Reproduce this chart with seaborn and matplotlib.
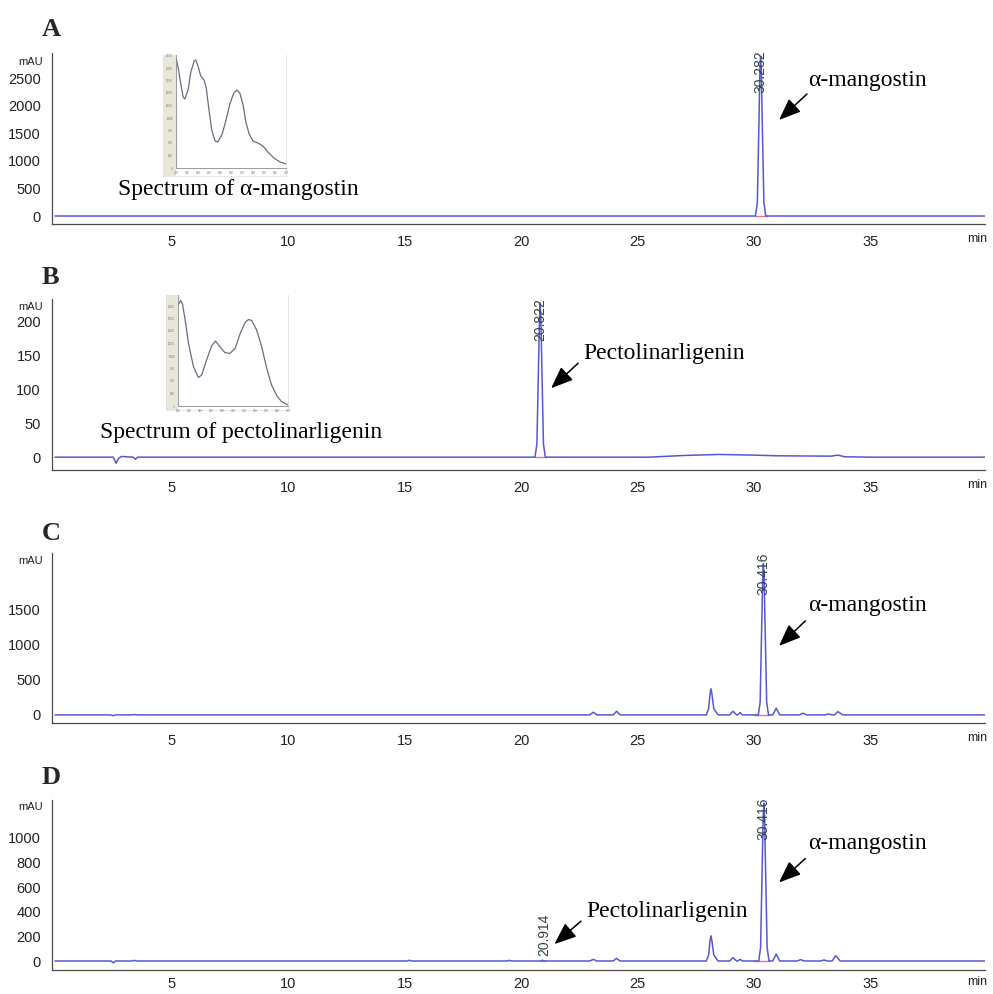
import matplotlib
matplotlib.use("Agg")
import matplotlib.pyplot as plt
from matplotlib.ticker import MultipleLocator, FixedLocator
from matplotlib.patches import Rectangle
import seaborn as sns

# ---------------- data ----------------
# Chromatogram A: alpha-mangostin standard
time_A = [0.0, 30.06, 30.14, 30.20, 30.25, 30.28, 30.31, 30.36, 30.42, 30.50, 40.0]
mau_A = [0, 0, 250, 1500, 2650, 2900, 2650, 1500, 250, 0, 0]

# Chromatogram B: pectolinarligenin standard
time_B = [0.0, 2.50, 2.62, 2.72, 2.85, 3.35, 3.45, 3.55,
          20.60, 20.68, 20.74, 20.79, 20.82, 20.85, 20.90, 20.96, 21.04,
          25.5, 27.0, 28.5, 30.0, 31.0, 33.3, 33.6, 33.9, 35.0, 40.0]
mau_B = [0, 0, -9, -2, 1, 0, -3, 0,
         0, 20, 120, 205, 228, 205, 120, 20, 0,
         0, 2.5, 4, 3, 2, 1.5, 3, 0.5, 0, 0]

# Chromatogram C: sample
time_C = [0.0, 2.40, 2.50, 2.60, 3.30, 3.40, 3.50,
          22.95, 23.10, 23.25, 23.95, 24.10, 24.25,
          27.95, 28.05, 28.11, 28.15, 28.19, 28.27, 28.45,
          28.95, 29.10, 29.25, 29.30, 29.40, 29.50,
          30.18, 30.26, 30.32, 30.37, 30.40, 30.43, 30.48, 30.54, 30.62,
          30.80, 30.95, 31.10,
          31.95, 32.10, 32.25, 33.05, 33.20, 33.35, 33.45, 33.60, 33.80, 40.0]
mau_C = [0, 0, -12, 0, 0, 6, 0,
         0, 38, 0, 0, 52, 0,
         0, 90, 300, 372, 300, 90, 0,
         0, 52, 0, 0, 33, 0,
         0, 180, 1150, 1950, 2150, 1950, 1150, 180, 0,
         0, 94, 0,
         0, 24, 0, 0, 14, 0, 0, 47, 0, 0]

# Chromatogram D: sample
time_D = [0.0, 2.40, 2.50, 2.60, 3.30, 3.40, 3.50,
          15.10, 15.20, 15.30, 19.40, 19.50, 19.60, 20.80, 20.91, 21.02,
          22.95, 23.10, 23.25, 23.95, 24.10, 24.25,
          27.95, 28.05, 28.11, 28.15, 28.19, 28.27, 28.45,
          28.95, 29.10, 29.25, 29.30, 29.40, 29.50,
          30.20, 30.28, 30.34, 30.39, 30.42, 30.45, 30.50, 30.56, 30.64,
          30.80, 30.95, 31.10,
          31.85, 32.00, 32.15, 32.85, 33.00, 33.15, 33.35, 33.50, 33.70, 40.0]
mau_D = [0, 0, -15, 0, 0, 5, 0,
         0, 6, 0, 0, 5, 0, 0, 6, 0,
         0, 13, 0, 0, 21, 0,
         0, 50, 165, 204, 165, 50, 0,
         0, 27, 0, 0, 13, 0,
         0, 110, 680, 1170, 1280, 1170, 680, 110, 0,
         0, 56, 0,
         0, 11, 0, 0, 8, 0, 0, 43, 0, 0]

# Retention-time labels
rt_labels_A = ["30.282"]; rt_x_A = [30.28]; rt_y_A = [2230]
rt_labels_B = ["20.822"]; rt_x_B = [20.82]; rt_y_B = [172]
rt_labels_C = ["30.416"]; rt_x_C = [30.40]; rt_y_C = [1707]
rt_labels_D = ["20.914", "30.416"]; rt_x_D = [20.98, 30.42]; rt_y_D = [40, 984]

# Integration baselines (start, end)
integ_A = [(30.06, 30.55)]
integ_B = [(20.60, 21.05)]
integ_C = [(30.00, 30.62)]
integ_D = [(20.80, 21.02), (30.00, 30.64)]

# Compound annotations: name, text (x, y), arrow tail, arrow head
names_A = ["α-mangostin"]; text_A = [(32.3, 2468)]; tail_A = [(32.27, 2214)]; head_A = [(31.07, 1742)]
names_B = ["Pectolinarligenin"]; text_B = [(22.66, 153)]; tail_B = [(22.45, 139)]; head_B = [(21.29, 102)]
names_C = ["α-mangostin"]; text_C = [(32.3, 1548)]; tail_C = [(32.2, 1335)]; head_C = [(31.07, 980)]
names_D = ["α-mangostin", "Pectolinarligenin"]
text_D = [(32.3, 952), (22.8, 403)]; tail_D = [(32.2, 831), (22.57, 323)]; head_D = [(31.07, 637), (21.43, 137)]

# UV spectra (insets)
wl_A = [200, 204, 209, 213, 216, 222, 227, 233, 236, 240, 245, 251, 255, 260, 265, 271, 276,
        284, 291, 298, 305, 311, 316, 322, 327, 333, 340, 349, 358, 367, 378, 389, 400]
abs_A = [2200, 2000, 1660, 1420, 1380, 1560, 1920, 2140, 2160, 2040, 1840, 1760, 1600, 1160, 760, 540, 520,
         680, 960, 1280, 1500, 1560, 1500, 1260, 920, 680, 540, 500, 440, 320, 200, 120, 80]
wl_B = [200, 205, 208, 213, 219, 228, 237, 243, 252, 261, 268, 276, 285, 294, 304, 313, 322,
        328, 334, 343, 352, 361, 370, 380, 388, 400]
abs_B = [2020, 2110, 2050, 1720, 1260, 790, 570, 620, 920, 1200, 1300, 1190, 1070, 1050, 1150, 1450, 1670,
         1730, 1710, 1520, 1190, 770, 420, 200, 90, 20]
spectrum_titles = ["Spectrum of α-mangostin", "Spectrum of pectolinarligenin"]
spectrum_title_xy = [(2.7, 472), (1.93, 36)]

panel_letters = ["A", "B", "C", "D"]

# ---------------- styling / layout ----------------
sns.set_style("white")
plt.rcParams["font.family"] = ["Liberation Sans", "DejaVu Sans"]
SERIF = ["Liberation Serif", "DejaVu Serif"]

W, H = 993, 994
def fbox(l, t, r, b):
    return [l / W, 1 - b / H, (r - l) / W, (b - t) / H]

TRACE = "#5757d2"
PINK = "#e07a98"
AXC = "#4a4a4a"
RTC = "#2f4346"

fig = plt.figure(figsize=(W / 100, H / 100), dpi=100)

panels = [
    dict(t=time_A, y=mau_A, box=(52, 53, 985, 224), ylim=(-145, 2958), major=[0, 500, 1000, 1500, 2000, 2500],
         minor=100, mau_y=2795, letter_y=29, rt=(rt_labels_A, rt_x_A, rt_y_A), integ=integ_A,
         ann=(names_A, text_A, tail_A, head_A), xlen=6, xpad=2),
    dict(t=time_B, y=mau_B, box=(52, 299, 985, 470), ylim=(-19, 234), major=[0, 50, 100, 150, 200],
         minor=10, mau_y=222, letter_y=277, rt=(rt_labels_B, rt_x_B, rt_y_B), integ=integ_B,
         ann=(names_B, text_B, tail_B, head_B), xlen=6, xpad=2),
    dict(t=time_C, y=mau_C, box=(52, 553, 985, 723), ylim=(-115, 2300), major=[0, 500, 1000, 1500],
         minor=100, mau_y=2187, letter_y=533, rt=(rt_labels_C, rt_x_C, rt_y_C), integ=integ_C,
         ann=(names_C, text_C, tail_C, head_C), xlen=6, xpad=2),
    dict(t=time_D, y=mau_D, box=(52, 800, 985, 970), ylim=(-73, 1306), major=[0, 200, 400, 600, 800, 1000],
         minor=50, mau_y=1250, letter_y=778, rt=(rt_labels_D, rt_x_D, rt_y_D), integ=integ_D,
         ann=(names_D, text_D, tail_D, head_D), xlen=4.5, xpad=0.8),
]

xmajor = [5, 10, 15, 20, 25, 30, 35]
xminor = [m for m in range(1, 40) if m % 5 != 0]

axes = []
for i, p in enumerate(panels):
    assert len(p["t"]) == len(p["y"])
    ax = fig.add_axes(fbox(*p["box"]))
    axes.append(ax)
    ax.set_facecolor("none")
    sns.lineplot(x=p["t"], y=p["y"], ax=ax, color=TRACE, linewidth=1.1,
                 estimator=None, sort=False, legend=False, zorder=3)
    for (a, b) in p["integ"]:
        ax.plot([a, b], [0, 0], color=PINK, lw=1.0, zorder=2)
    ax.set_xlim(-0.13, 39.91)
    ax.set_ylim(*p["ylim"])
    for s in ["top", "right"]:
        ax.spines[s].set_visible(False)
    for s in ["left", "bottom"]:
        ax.spines[s].set_color(AXC)
        ax.spines[s].set_linewidth(0.9)
    ax.xaxis.set_major_locator(FixedLocator(xmajor))
    ax.xaxis.set_minor_locator(FixedLocator(xminor))
    ax.set_xticklabels([str(v) for v in xmajor])
    ax.yaxis.set_major_locator(FixedLocator(p["major"]))
    ax.yaxis.set_minor_locator(MultipleLocator(p["minor"]))
    ax.set_yticklabels([str(v) for v in p["major"]])
    ax.tick_params(axis="y", which="major", direction="out", length=6, width=0.8,
                   color=AXC, labelsize=10.5, labelcolor="#222222", pad=2)
    ax.tick_params(axis="x", which="major", direction="out", length=p["xlen"], width=0.8,
                   color=AXC, labelsize=10.5, labelcolor="#222222", pad=p["xpad"])
    ax.tick_params(axis="both", which="minor", direction="out", length=3.5, width=0.7, color=AXC)
    ax.set_xlabel("")
    ax.set_ylabel("")
    ax.annotate("mAU", xy=(0, p["mau_y"]), xycoords=("axes fraction", "data"),
                xytext=(-6.5, 0), textcoords="offset points", ha="right", va="center",
                fontsize=8, color="#222222")
    ax.annotate("min", xy=(39.15, 0), xycoords=("data", "axes fraction"),
                xytext=(0, -(p["xlen"] * 0.72 + p["xpad"] + 0.3)), textcoords="offset points",
                ha="left", va="top", fontsize=9, color="#222222", annotation_clip=False)
    # retention time labels
    labs, xs, ys = p["rt"]
    for lab, x, y in zip(labs, xs, ys):
        ax.text(x, y, lab, rotation=90, ha="center", va="bottom", fontsize=10,
                color=RTC, zorder=4)
    # compound annotations
    names, txy, tails, heads = p["ann"]
    for nm, (tx, ty), tl, hd in zip(names, txy, tails, heads):
        ax.text(tx, ty, nm, ha="left", va="center", fontsize=17, family=SERIF, color="black")
        ax.annotate("", xy=hd, xytext=tl,
                    arrowprops=dict(arrowstyle="-|>,head_length=0.75,head_width=0.3",
                                    mutation_scale=18, color="black", lw=1.1,
                                    shrinkA=0, shrinkB=0))
    # panel letter
    fig.text(42 / W, 1 - p["letter_y"] / H, panel_letters[i], ha="left", va="center",
             fontsize=19, fontweight="bold", family=SERIF)

# spectrum titles
for ax, title, (tx, ty) in zip(axes[:2], spectrum_titles, spectrum_title_xy):
    ax.text(tx, ty, title, ha="left", va="center", fontsize=17, family=SERIF, color="black")

# ---------------- inset UV spectra ----------------
insets = [
    dict(outer=(163, 55, 286, 176), inner=(176, 55, 286, 168), wl=wl_A, ab=abs_A, ymax=2260),
    dict(outer=(166, 295, 288, 410), inner=(178, 295, 288, 406), wl=wl_B, ab=abs_B, ymax=2220),
]
for ins in insets:
    ol, ot, orr, ob = ins["outer"]
    il, it, ir, ib = ins["inner"]
    bg = fig.add_axes(fbox(*ins["outer"]))
    bg.set_facecolor("white")
    bg.set_xticks([]); bg.set_yticks([])
    for s in bg.spines.values():
        s.set_color("#e2e2e2"); s.set_linewidth(0.6)
    bg.add_patch(Rectangle((0, 0), (il - ol) / (orr - ol), 1, transform=bg.transAxes,
                           facecolor="#e9e7da", edgecolor="none"))
    iax = fig.add_axes(fbox(*ins["inner"]))
    iax.set_facecolor("white")
    sns.lineplot(x=ins["wl"], y=ins["ab"], ax=iax, color="#6c6c80", linewidth=0.9,
                 estimator=None, sort=False, legend=False)
    iax.set_xlim(200, 400)
    iax.set_ylim(0, ins["ymax"])
    iax.set_xlabel(""); iax.set_ylabel("")
    for s in ["top", "right"]:
        iax.spines[s].set_visible(False)
    for s in ["left", "bottom"]:
        iax.spines[s].set_color("#8a8a8a"); iax.spines[s].set_linewidth(0.6)
    iax.xaxis.set_major_locator(MultipleLocator(20))
    iax.yaxis.set_major_locator(MultipleLocator(250))
    iax.tick_params(axis="both", which="major", length=1.5, width=0.4, color="#888888",
                    labelsize=2.2, labelcolor="#777777", pad=0.8)

fig.savefig("out.png", dpi=100, facecolor="white")
